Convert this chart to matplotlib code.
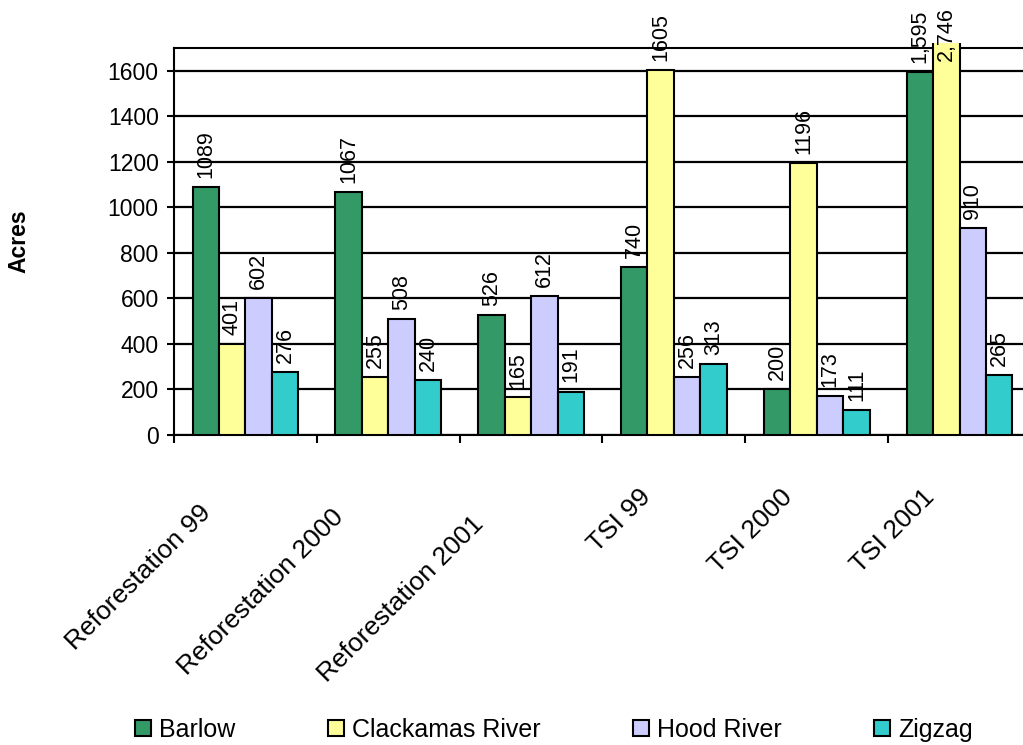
import matplotlib
matplotlib.use("Agg")
import matplotlib.pyplot as plt
import matplotlib.transforms as mtransforms
from matplotlib.patches import Rectangle
import numpy as np

plt.rcParams['font.family'] = ['Liberation Sans', 'DejaVu Sans']

categories = ["Reforestation 99", "Reforestation 2000", "Reforestation 2001",
              "TSI 99", "TSI 2000", "TSI 2001"]
series_names = ["Barlow", "Clackamas River", "Hood River", "Zigzag"]
barlow = [1089, 1067, 526, 740, 200, 1595]
clackamas = [401, 255, 165, 1605, 1196, 2746]
hood = [602, 508, 612, 256, 173, 910]
zigzag = [276, 240, 191, 313, 111, 265]
series_values = [barlow, clackamas, hood, zigzag]
colors = ["#339966", "#FFFF99", "#CCCCFF", "#33CCCC"]
y_ticks = [0, 200, 400, 600, 800, 1000, 1200, 1400, 1600]

YMAX = 1700

fig = plt.figure(figsize=(10.23, 7.45), dpi=100)
W, H = 1023, 745
ax = fig.add_axes([174 / W, (H - 435) / H, (1031 - 174) / W, (435 - 48) / H])

n_groups = len(categories)
n_series = len(series_values)
gap = 1.4
bw = 1.0 / (n_series + gap)
x = np.arange(n_groups)

# clip region a few pixels above the plot top so oversized bars poke out
clip_rect = Rectangle((0, 0), 1, 1 + 5 / 387, transform=ax.transAxes,
                      facecolor='none', edgecolor='none')
ax.add_patch(clip_rect)
clip_rect.set_visible(False)

for i, (name, vals, col) in enumerate(zip(series_names, series_values, colors)):
    offs = (i - (n_series - 1) / 2) * bw
    bars = ax.bar(x + offs, vals, width=bw, color=col, edgecolor='black',
                  linewidth=1.5, label=name, zorder=3)
    for g, (b, v) in enumerate(zip(bars, vals)):
        b.set_clip_path(clip_rect)
        label = f"{v:,}" if g == n_groups - 1 else f"{v}"
        ya = min(v, YMAX - 95)
        ax.annotate(label, (b.get_x() + b.get_width() / 2, ya),
                    xytext=(0, 6.5), textcoords='offset points',
                    rotation=90, ha='center', va='bottom', fontsize=15.5,
                    annotation_clip=False, clip_on=False, zorder=4)

ax.set_xlim(-0.5, n_groups - 0.5)
ax.set_ylim(0, YMAX)
ax.set_yticks(y_ticks)
ax.set_yticklabels([str(t) for t in y_ticks], fontsize=16.5)
ax.yaxis.grid(True, color='black', linewidth=1.6, zorder=0)
ax.set_axisbelow(True)
ax.tick_params(axis='y', direction='out', length=5, width=1.5, pad=6)

ax.set_xticks(x)
ax.set_xticks(np.arange(n_groups + 1) - 0.5, minor=True)
ax.tick_params(axis='x', which='major', length=0, pad=0)
ax.tick_params(axis='x', which='minor', length=6, width=1.5, direction='out')
ax.set_xticklabels(categories, fontsize=19, rotation=45, ha='right', va='top')

# shift each rotated category label (pixels: right, down)
label_shifts = [(-30, 65), (-40, 70), (-43, 77), (-18, 50), (-20, 50), (-20, 50)]
for lbl, (dx, dy) in zip(ax.get_xticklabels(), label_shifts):
    lbl.set_transform(lbl.get_transform() +
                      mtransforms.ScaledTranslation(dx / 100, -dy / 100,
                                                    fig.dpi_scale_trans))

for sp in ax.spines.values():
    sp.set_linewidth(1.5)
    sp.set_color('black')

ax.set_ylabel("Acres", fontsize=16.5, fontweight='bold', va='center')
ax.yaxis.set_label_coords(-0.181, 0.5)

fs = 18
fig.legend(loc='center left', bbox_to_anchor=(135 / W, 15 / H), ncol=4,
           frameon=False, fontsize=fs, handlelength=0.64, handleheight=0.6,
           handletextpad=0.32, columnspacing=3.7, borderpad=0, borderaxespad=0)

fig.savefig("out.png", dpi=100)
